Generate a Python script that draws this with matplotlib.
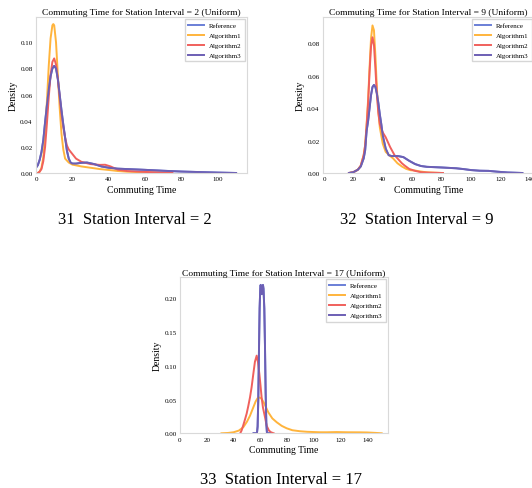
import matplotlib
matplotlib.use("Agg")
import matplotlib.pyplot as plt

plt.rcParams['font.family'] = ['Liberation Serif', 'DejaVu Serif']
plt.rcParams['axes.edgecolor'] = '0.85'
plt.rcParams['axes.linewidth'] = 0.8
plt.rcParams['legend.edgecolor'] = '0.8'

names = ['Reference', 'Algorithm1', 'Algorithm2', 'Algorithm3']
colors = ['#6a7fd6', '#ffb43c', '#f0605c', '#6c5fb4']

# ---- station interval = 2 : density curves ----
x2_alg3 = [0, 1, 2, 3, 4, 5, 6, 7, 8, 9, 10, 11, 12, 13, 14, 15, 16, 17, 18, 19, 20,
           22, 25, 28, 32, 36, 40, 45, 50, 60, 70, 80, 90, 100, 110]
d2_alg3 = [0.004, 0.006, 0.010, 0.016, 0.025, 0.039, 0.052, 0.064, 0.074, 0.080, 0.082,
           0.080, 0.072, 0.060, 0.048, 0.037, 0.027, 0.017, 0.011, 0.008, 0.0072,
           0.0072, 0.0078, 0.008, 0.0068, 0.005, 0.004, 0.0033, 0.003, 0.0024, 0.0017,
           0.0011, 0.0007, 0.0003, 0.0]
x2_alg1 = [1, 2, 3, 4, 5, 6, 7, 8, 9, 9.5, 10, 11, 12, 13, 14, 15, 16, 18, 20, 25, 30,
           35, 40, 45, 50, 60, 70]
d2_alg1 = [0.0, 0.001, 0.004, 0.012, 0.028, 0.055, 0.082, 0.103, 0.113, 0.114, 0.113,
           0.100, 0.075, 0.050, 0.030, 0.018, 0.011, 0.008, 0.0064, 0.005, 0.004, 0.003,
           0.0023, 0.0015, 0.001, 0.0005, 0.0001]
x2_alg2 = [1, 2, 3, 4, 5, 6, 7, 8, 9, 10, 11, 12, 13, 14, 15, 16, 17, 18, 20, 22, 25, 30,
           35, 38, 41, 45, 50, 60, 70, 75]
d2_alg2 = [0.0, 0.001, 0.003, 0.009, 0.020, 0.038, 0.058, 0.075, 0.085, 0.0877, 0.083,
           0.072, 0.058, 0.045, 0.035, 0.027, 0.021, 0.018, 0.0145, 0.011, 0.0085, 0.0068,
           0.0062, 0.0063, 0.005, 0.0025, 0.0015, 0.0008, 0.0003, 0.0]

# ---- station interval = 9 ----
x9_alg3 = [17, 20, 23, 25, 27, 28, 29, 30, 31, 32, 33, 34, 35, 36, 37, 38, 39, 40, 42, 44,
           46, 50, 54, 58, 62, 66, 70, 75, 80, 90, 95, 100, 106, 112, 118, 125, 135]
d9_alg3 = [0.0, 0.0005, 0.002, 0.004, 0.009, 0.014, 0.026, 0.032, 0.040, 0.048, 0.053,
           0.0543, 0.053, 0.049, 0.043, 0.036, 0.030, 0.023, 0.015, 0.011, 0.0104, 0.0105,
           0.0098, 0.0075, 0.0055, 0.0043, 0.0038, 0.0036, 0.0034, 0.0029, 0.0024, 0.0018,
           0.0014, 0.0013, 0.0008, 0.0003, 0.0]
x9_alg1 = [17, 20, 23, 25, 27, 28, 29, 30, 31, 32, 33, 34, 35, 36, 37, 38, 40, 42, 45, 47,
           50, 53, 56, 59, 62, 65, 70, 80]
d9_alg1 = [0.0, 0.0005, 0.002, 0.0045, 0.011, 0.017, 0.030, 0.045, 0.065, 0.083, 0.091,
           0.088, 0.072, 0.052, 0.038, 0.028, 0.018, 0.013, 0.0105, 0.009, 0.006, 0.004,
           0.0025, 0.0017, 0.0015, 0.001, 0.0004, 0.0]
x9_alg2 = [17, 20, 23, 25, 27, 28, 29, 30, 31, 32, 33, 34, 35, 36, 37, 38, 40, 42, 45, 48,
           50, 53, 55, 58, 62, 66, 72, 81]
d9_alg2 = [0.0, 0.0005, 0.002, 0.0045, 0.011, 0.017, 0.029, 0.043, 0.062, 0.078, 0.0837,
           0.079, 0.064, 0.048, 0.037, 0.030, 0.025, 0.022, 0.016, 0.011, 0.009, 0.006,
           0.0045, 0.0025, 0.0013, 0.0005, 0.0002, 0.0]

# ---- station interval = 17 ----
x17_alg3 = [55, 57.5, 58, 58.5, 59, 59.5, 60, 60.3, 60.7, 61.1, 61.5, 62, 62.4, 63, 63.5,
            64, 64.5, 65, 67]
d17_alg3 = [0.0, 0.0, 0.01, 0.05, 0.12, 0.185, 0.215, 0.2197, 0.212, 0.206, 0.212, 0.2197,
            0.214, 0.185, 0.13, 0.06, 0.015, 0.0, 0.0]
x17_alg1 = [31, 36, 40, 44, 47.3, 50, 52.3, 54.5, 56.5, 58, 59.6, 61, 63, 66, 69, 72.3, 76,
            79.7, 84, 89.7, 95, 104.6, 110, 117, 125, 134.5, 140, 146, 150.7]
d17_alg1 = [0.0, 0.0005, 0.0015, 0.004, 0.009, 0.017, 0.026, 0.037, 0.047, 0.052, 0.053,
            0.051, 0.044, 0.031, 0.022, 0.0163, 0.011, 0.0074, 0.0045, 0.003, 0.0022,
            0.0015, 0.0015, 0.0018, 0.0015, 0.0014, 0.0012, 0.0006, 0.0]
x17_alg2 = [45, 46, 47.3, 48.5, 49.8, 51, 52.3, 53.5, 54.8, 56, 57.3, 58.3, 59.3, 60.2, 61,
            62, 63.5, 64.8, 66.5, 68, 70]
d17_alg2 = [0.0, 0.004, 0.012, 0.020, 0.029, 0.040, 0.053, 0.068, 0.088, 0.106, 0.115,
            0.105, 0.088, 0.070, 0.053, 0.038, 0.024, 0.011, 0.004, 0.0015, 0.0]

panels = [
    dict(interval=2, rect=[0.0677, 0.6442, 0.3966, 0.3190], xlim=(0, 116), ylim=(0, 0.1194),
         xticks=range(0, 101, 20), yticks=[0, 0.02, 0.04, 0.06, 0.08, 0.10],
         curves=[(x2_alg3, d2_alg3), (x2_alg1, d2_alg1), (x2_alg2, d2_alg2), (x2_alg3, d2_alg3)],
         caption=(0.2538, 0.5501, '31  Station Interval = 2')),
    dict(interval=9, rect=[0.6071, 0.6442, 0.3966, 0.3190], xlim=(-0.7, 142.9), ylim=(0, 0.0962),
         xticks=range(0, 141, 20), yticks=[0, 0.02, 0.04, 0.06, 0.08],
         curves=[(x9_alg3, d9_alg3), (x9_alg1, d9_alg1), (x9_alg2, d9_alg2), (x9_alg3, d9_alg3)],
         caption=(0.7838, 0.5501, '32  Station Interval = 9')),
    dict(interval=17, rect=[0.3383, 0.1119, 0.3910, 0.3190], xlim=(0, 155.4), ylim=(0, 0.231),
         xticks=range(0, 141, 20), yticks=[0, 0.05, 0.10, 0.15, 0.20],
         curves=[(x17_alg3, d17_alg3), (x17_alg1, d17_alg1), (x17_alg2, d17_alg2), (x17_alg3, d17_alg3)],
         caption=(0.528, 0.0184, '33  Station Interval = 17')),
]

fig = plt.figure(figsize=(5.32, 4.89), dpi=100)

for p in panels:
    ax = fig.add_axes(p['rect'])
    for (xs, ds), name, c in zip(p['curves'], names, colors):
        ax.plot(xs, ds, color=c, lw=1.4, label=name)
    ax.set_xlim(*p['xlim'])
    ax.set_ylim(*p['ylim'])
    ax.set_xticks(list(p['xticks']))
    ax.set_yticks(p['yticks'])
    ax.set_yticklabels([f'{v:.2f}' for v in p['yticks']])
    ax.tick_params(length=0, labelsize=5, pad=2.5)
    ax.set_title(f"Commuting Time for Station Interval = {p['interval']} (Uniform)",
                 fontsize=6.8, pad=2)
    ax.set_xlabel('Commuting Time', fontsize=7, labelpad=2.5)
    ax.set_ylabel('Density', fontsize=7, labelpad=1.5)
    ax.legend(loc='upper right', fontsize=5, fancybox=False, handlelength=2.2,
              borderpad=0.45, labelspacing=0.6, handletextpad=0.8, borderaxespad=0.3)
    cx, cy, txt = p['caption']
    fig.text(cx, cy, txt, ha='center', va='center', fontsize=12)

fig.savefig('out.png', dpi=100)
